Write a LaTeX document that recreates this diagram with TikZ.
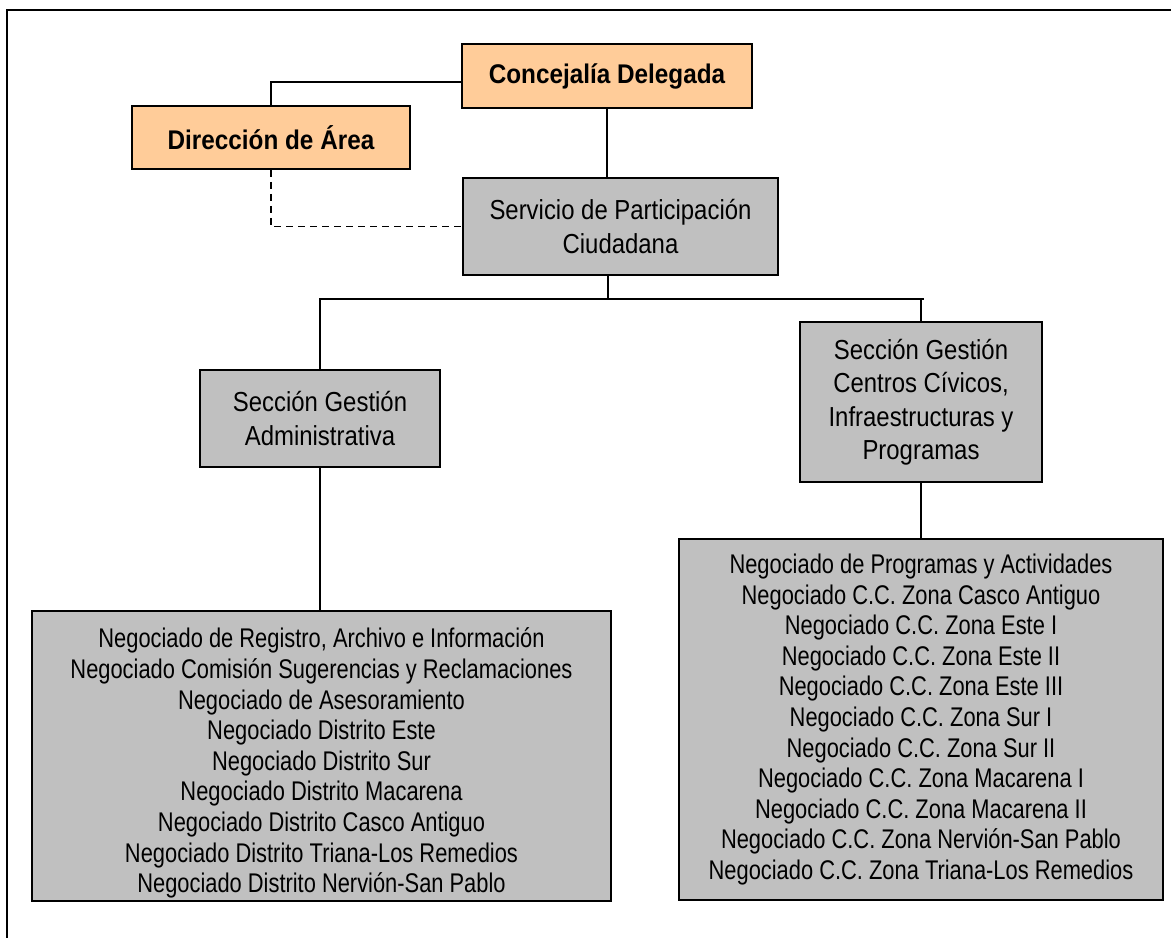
\documentclass[tikz,border=0pt]{standalone}
\usepackage{fontspec}
\setmainfont{Liberation Sans}[FakeStretch=0.81]
\newfontfamily\unitfont{Liberation Sans}[FakeStretch=0.87]
\newfontfamily\headfont{Liberation Sans}[FakeStretch=0.9]
\definecolor{peach}{HTML}{FFCC99}
\definecolor{boxgray}{HTML}{C0C0C0}
\tikzset{
  orgbox/.style={draw=black, line width=1.6pt, rectangle, inner sep=0pt, align=center},
  headbox/.style={orgbox, fill=peach, font=\headfont\fontsize{27}{30}\selectfont\bfseries},
  unitbox/.style={orgbox, fill=boxgray, font=\unitfont\fontsize{27.5}{33.5}\selectfont},
  listbox/.style={orgbox, fill=boxgray, font=\fontsize{27}{30.6}\selectfont},
  link/.style={line width=1.6pt},
  dlink/.style={line width=1.6pt, dash pattern=on 7pt off 5pt}
}
\begin{document}
\begin{tikzpicture}[x=1pt,y=-1pt]
\useasboundingbox (0,0) rectangle (1171,938);
\draw[line width=1.6pt] (1171,10) -- (7,10) -- (7,938);

\node[headbox, minimum width=290pt, minimum height=64pt] (conc) at (607,76) {Concejalía Delegada};
\node[headbox, minimum width=278pt, minimum height=63pt] (dir) at (271,137.5) {Dirección de Área};
\node[unitbox, minimum width=315pt, minimum height=97pt] (serv) at (620.5,226.5) {Servicio de Participación\\Ciudadana};
\node[unitbox, minimum width=240pt, minimum height=97pt] (secA) at (320,418.5) {Sección Gestión\\Administrativa};
\node[unitbox, minimum width=242pt, minimum height=160pt] (secB) at (921,402) {Sección Gestión\\Centros Cívicos,\\Infraestructuras y\\Programas};
\node[listbox, minimum width=579pt, minimum height=290pt] (negA) at (321.5,756) {\rule{0pt}{34pt}Negociado de Registro, Archivo e Información\\Negociado Comisión Sugerencias y Reclamaciones\\Negociado de Asesoramiento\\Negociado Distrito Este\\Negociado Distrito Sur\\Negociado Distrito Macarena\\Negociado Distrito Casco Antiguo\\Negociado Distrito Triana-Los Remedios\\Negociado Distrito Nervión-San Pablo};
\node[listbox, minimum width=484pt, minimum height=361pt] (negB) at (921,719.5) {Negociado de Programas y Actividades\\Negociado C.C. Zona Casco Antiguo\\Negociado C.C. Zona Este I\\Negociado C.C. Zona Este II\\Negociado C.C. Zona Este III\\Negociado C.C. Zona Sur I\\Negociado C.C. Zona Sur II\\Negociado C.C. Zona Macarena I\\Negociado C.C. Zona Macarena II\\Negociado C.C. Zona Nervión-San Pablo\\Negociado C.C. Zona Triana-Los Remedios};

\coordinate (busR) at (924,299);
\coordinate (busM) at (608,299);

\draw[link] (dir.north) |- ([yshift=-6pt]conc.west);
\draw[link] (conc.south) -- (conc.south |- serv.north);
\draw[dlink] (dir.south) |- (serv.west);
\draw[link] (busM |- serv.south) -- (busM);
\draw[link] (secA.north) |- (busR);
\draw[link] (secB.north) -- (secB.north |- busR);
\draw[link] (secA.south) -- (secA.south |- negA.north);
\draw[link] (secB.south) -- (negB.north);
\end{tikzpicture}
\end{document}
